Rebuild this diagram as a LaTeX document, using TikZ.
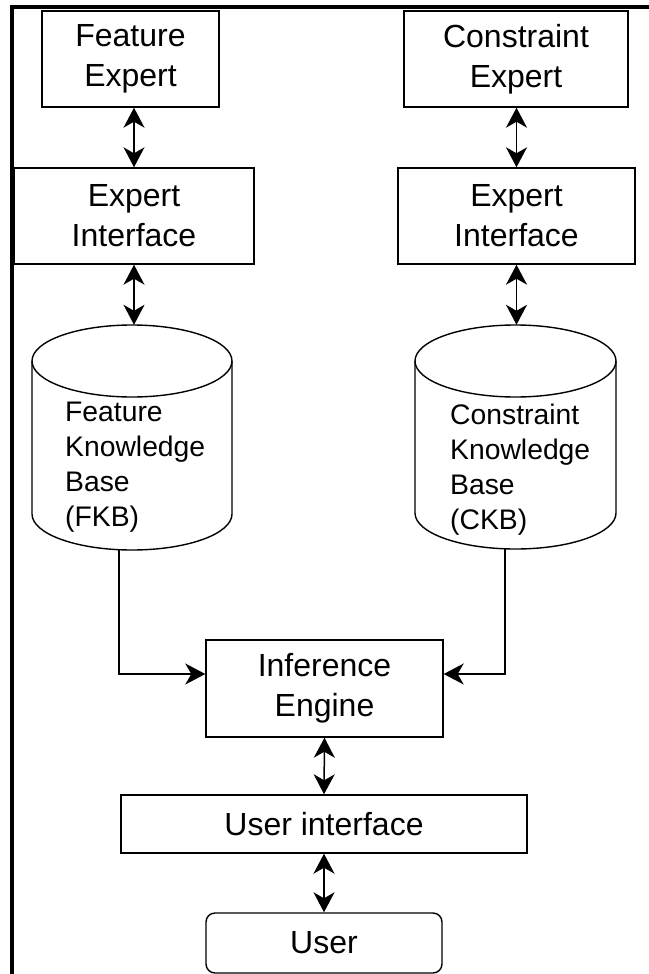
\documentclass[tikz,border=0pt]{standalone}
\usepackage{fontspec}
\setmainfont{Liberation Sans}
\usetikzlibrary{arrows.meta}

% coordinates are given in pixels, y growing downwards
\tikzset{
  x=1pt, y=-1pt,
  ln/.style={line width=1.4pt, draw=black},
  box/.style={ln, rectangle, inner sep=0pt, align=center,
    font=\fontsize{32}{40}\selectfont},
  ubox/.style={box, rounded corners=9pt},
  drumspace/.style={rectangle, inner sep=0pt, draw=none},
  drumtext/.style={inner sep=0pt, align=left, anchor=north west,
    font=\fontsize{28.3}{35}\selectfont},
  tip/.tip={Stealth[length=20pt,width=21pt,inset=6pt]},
  link/.style={line width=1.5pt, draw=black, tip-tip},
  feed/.style={line width=1.4pt, draw=black, -tip},
}

% upright cylinder: centre x, top y, bottom y, x radius, y radius
\newcommand\drum[5]{%
  \draw[ln] (#1,{#2+#5}) ellipse [x radius=#4, y radius=#5];
  \draw[ln] ({#1-#4},{#2+#5}) -- ({#1-#4},{#3-#5})
    .. controls ({#1-#4},{#3-#5+0.5523*#5}) and ({#1-0.5523*#4},#3) .. (#1,#3)
    .. controls ({#1+0.5523*#4},#3) and ({#1+#4},{#3-#5+0.5523*#5}) .. ({#1+#4},{#3-#5})
    -- ({#1+#4},{#2+#5});
}

\begin{document}
\begin{tikzpicture}
\useasboundingbox (0,0) rectangle (648,974);

% frame
\draw[line width=3.2pt, black] (12,990) -- (12,7) -- (660,7);

% expert side boxes
\node[box, minimum width=177pt, minimum height=96pt] (fe) at (130.5,59) {Feature\\Expert};
\node[box, minimum width=224pt, minimum height=96pt] (ce) at (516,59) {Constraint\\Expert};
\node[box, minimum width=240pt, minimum height=96pt] (eil) at (134,216) {Expert\\Interface};
\node[box, minimum width=237pt, minimum height=96pt] (eir) at (516.5,216) {Expert\\Interface};

% knowledge bases
\drum{132}{325}{550}{100}{36}
\drum{515.5}{325}{549}{100.5}{36}
\node[drumspace, minimum width=200pt, minimum height=225pt] (fkb) at (132,437.5) {};
\node[drumspace, minimum width=201pt, minimum height=224pt] (ckb) at (515.5,437) {};
\node[drumtext] (fkbtext) at (65,402) {Feature\\Knowledge\\Base\\(FKB)};
\node[drumtext] (ckbtext) at (450,404) {Constraint\\Knowledge\\Base\\(CKB)};

% engine and user side
\node[box, minimum width=237pt, minimum height=97pt] (ie) at (324.5,688.5) {Inference\\Engine};
\node[box, minimum width=406pt, minimum height=58pt] (ui) at (324,824) {User interface};
\node[ubox, minimum width=236pt, minimum height=60pt] (user) at (324,943) {User};

% connectors
\draw[link] (fe.south -| eil.north) -- (eil.north);
\draw[link] (ce.south -| eir.north) -- (eir.north);
\draw[link] (eil.south) -- (eil.south |- fkb.north);
\draw[link] (eir.south) -- (eir.south |- ckb.north);
\draw[feed] ([xshift=-13pt]fkb.south) |- ([yshift=14.5pt]ie.west);
\draw[feed] ([xshift=-10.5pt]ckb.south) |- ([yshift=14.5pt]ie.east);
\draw[link] (ie.south) -- (ui.north);
\draw[link] (ui.south) -- (user.north);
\end{tikzpicture}
\end{document}
